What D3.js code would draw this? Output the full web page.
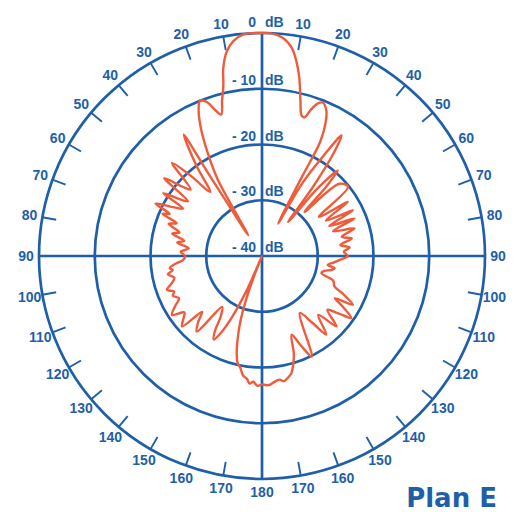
<!DOCTYPE html>
<html>
<head>
<meta charset="utf-8">
<script src="https://cdn.jsdelivr.net/npm/d3@7"></script>
<style>
  html, body { margin: 0; padding: 0; background: #ffffff; }
  svg { display: block; }
</style>
</head>
<body>
<svg id="chart" width="521" height="512"></svg>
<script>
// ---- data ----
// polar pattern, angle in degrees (0 = top, clockwise positive), level in dB
const angleDeg = [
  -180, -178, -176, -174.5, -173, -171, -169, -167.2, -165, -163, -161.5, -160, -158.5, -157.5,
  -156, -154, -152, -150, -148, -145.5, -142, -139.2, -136, -133, -131.4, -128.5, -126, -123.2,
  -120, -117, -114, -112, -109.6, -107, -104, -101, -99, -97.5, -95, -93, -90,
  -87, -84, -81, -79, -76, -74, -71, -69, -67, -65.5, -63.8, -61, -59, -57.5, -55, -53.5, -51.5,
  -49, -47, -44, -41.5, -39, -36, -32.8, -33.0, -33.3, -33.5, -30, -27.5, -25.5, -23.5, -21.7,
  -19.5, -17.8, -16.1, -14.4, -12.8, -11.6, -9.7, -7.6, -4.8, -2, 0,
  2, 5.5, 8.1, 10, 11.8, 13.9, 15.7, 17, 18.5, 20, 21.7, 23.9, 25.5, 27, 26.8, 26.5,
  29, 31.5, 33.4, 35, 36.5, 37.5, 39.5, 41.6, 42.8, 44, 47, 51.2, 55.5, 57.8, 61, 63.3, 66, 67.9,
  70.8, 73.4, 76.5, 79, 82, 84.5, 87, 90, 92.9, 95, 97.7, 99.5, 101.4, 103.5, 106.2, 109, 112.8,
  115, 118.2, 120.1, 122, 124.8, 127, 129.5, 133.4, 136.3, 140.7, 143, 146.4, 153.7, 156.5, 159.4,
  162, 164, 166, 167.9, 170, 172, 174.9, 177, 180
];
const levelDb = [
  -17.0, -16.7, -17.4, -17.0, -17.8, -18.3, -19.6, -20.3, -22.5, -25.5, -28, -31.5, -36, -40,
  -33, -28, -24.5, -22.7, -24, -27, -28.4, -22.1, -23.5, -25.3, -20.9, -22, -22.8, -20.7,
  -22, -23.3, -22.5, -23, -21.9, -23, -23.8, -22.8, -23.8, -23.3, -24.5, -25.8, -26.2,
  -25.4, -26.8, -24.6, -25.8, -23.4, -24.6, -22.3, -23.6, -20.6, -21.8, -18.7, -22, -23.5, -19, -22.5, -23.5, -17.6,
  -21, -22.5, -16.8, -21, -25.2, -20, -14.1, -22, -30, -35.5, -24, -18.5, -14.5, -11.5, -10,
  -10.8, -12.5, -13.6, -11.2, -8.7, -5.5, -2.7, -1.1, -0.1, 0, 0,
  0, -0.7, -2.25, -4.5, -7.3, -11.3, -13.8, -14.0, -12.3, -10.9, -10.4, -11.5, -13.5, -17, -24, -33.5,
  -25, -19, -14.1, -18, -25, -32.3, -24, -19.5, -23, -29, -21, -20.2, -27.6, -21.8, -26.9, -21.7, -26.8, -22.1,
  -26.5, -22.7, -25.3, -23.6, -25.8, -24.2, -25.3, -24.6, -26, -27, -28.1, -26.8, -27.3, -28.5, -28.9, -26.5, -25.9,
  -24, -21.5, -24.9, -23, -20.5, -23, -24.8, -21.6, -25.4, -21.8, -25, -27.7, -19.9, -22.5, -24.9,
  -21.5, -19.7, -18.3, -17.7, -17.2, -17.6, -17.2, -16.8, -17.0
];
const ringLevels = [-30, -20, -10, 0];
const ringLabels = ["- 30", "- 20", "- 10", "0"];
const centerLabel = "- 40";
const unitLabel = "dB";
const tickAngles = d3.range(10, 360, 10);
const title = "Plan E";

// ---- drawing ----
const blue = "#1f5fa9";
const red = "#ef5b3b";
const cx = 262, cy = 256, R = 223;
const svg = d3.select("#chart");
const g = svg.append("g").attr("transform", `translate(${cx},${cy})`);
const rScale = d3.scaleLinear().domain([-40, 0]).range([0, R]);
const toRad = d => d * Math.PI / 180;
const FONT = "Liberation Sans, Arial, sans-serif";

// rings
g.selectAll("circle.ring").data(ringLevels).join("circle")
  .attr("r", d => rScale(d)).attr("fill", "none")
  .attr("stroke", blue).attr("stroke-width", 2.7);

// axes
g.append("line").attr("x1", 0).attr("x2", 0).attr("y1", -R).attr("y2", R)
  .attr("stroke", blue).attr("stroke-width", 2.7);
g.append("line").attr("x1", -R).attr("x2", R).attr("y1", 0).attr("y2", 0)
  .attr("stroke", blue).attr("stroke-width", 2.7);

// ticks
g.selectAll("line.tick").data(tickAngles.filter(a => a % 90 !== 0)).join("line")
  .attr("x1", a => Math.sin(toRad(a)) * R).attr("y1", a => -Math.cos(toRad(a)) * R)
  .attr("x2", a => Math.sin(toRad(a)) * (R - 14)).attr("y2", a => -Math.cos(toRad(a)) * (R - 14))
  .attr("stroke", blue).attr("stroke-width", 1.9);

// angle labels
const labR = 236;
g.selectAll("text.ang").data(tickAngles).join("text")
  .attr("x", a => Math.sin(toRad(a)) * labR)
  .attr("y", a => -Math.cos(toRad(a)) * labR)
  .attr("text-anchor", "middle").attr("dominant-baseline", "central")
  .attr("font-family", FONT).attr("font-weight", "bold")
  .attr("font-size", 14).attr("fill", blue)
  .text(a => a <= 180 ? a : 360 - a);

// dB labels
const dbLab = ringLevels.map((l, i) => ({ l, t: ringLabels[i] })).concat([{ l: -40, t: centerLabel }]);
const dbG = g.selectAll("g.db").data(dbLab).join("g")
  .attr("transform", d => `translate(0,${-rScale(d.l) - (d.l === 0 ? 6 : 4)})`);
dbG.append("text").attr("x", -6).attr("text-anchor", "end")
  .attr("font-family", FONT).attr("font-weight", "bold")
  .attr("font-size", 14).attr("fill", blue).text(d => d.t);
dbG.append("text").attr("x", 3).attr("text-anchor", "start")
  .attr("font-family", FONT).attr("font-weight", "bold")
  .attr("font-size", 14).attr("fill", blue).text(unitLabel);

// pattern
const pts = angleDeg.map((a, i) => [toRad(a), rScale(Math.max(-40, levelDb[i]))]);
const line = d3.lineRadial().angle(d => d[0]).radius(d => d[1]).curve(d3.curveCatmullRom.alpha(0.5));
g.append("path").attr("d", line(pts)).attr("fill", "none")
  .attr("stroke", red).attr("stroke-width", 2.4).attr("stroke-linejoin", "round");

// title
svg.append("text").attr("x", 497).attr("y", 507).attr("text-anchor", "end")
  .attr("font-family", "DejaVu Sans, sans-serif").attr("font-weight", "bold")
  .attr("font-size", 26).attr("fill", blue).text(title);
</script>
</body>
</html>
